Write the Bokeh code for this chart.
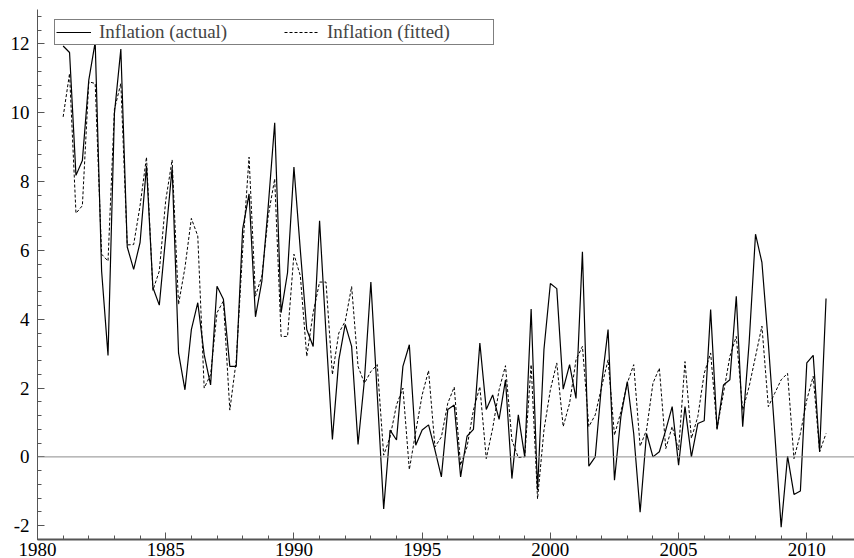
from bokeh.plotting import figure
from bokeh.models import Range1d, Span, Legend, LegendItem, SingleIntervalTicker, PrintfTickFormatter
from bokeh.embed import file_html
from bokeh.resources import INLINE

# Quarterly inflation, 1981Q1 - 2010Q4
start_year = 1981
quarters_per_year = 4

actual = [
    11.94, 11.75, 8.18, 8.61, 10.95, 12.05, 5.40, 2.95, 9.98, 11.85,
    6.10, 5.45, 6.23, 8.45, 4.92, 4.41, 6.40, 8.40, 3.02, 1.95,
    3.70, 4.48, 2.97, 2.09, 4.96, 4.58, 2.63, 2.63, 6.62, 7.64,
    4.07, 5.11, 7.30, 9.71, 4.19, 5.35, 8.42, 6.00, 3.70, 3.21,
    6.86, 3.60, 0.51, 2.82, 3.85, 3.21, 0.36, 2.24, 5.08, 1.80,
    -1.51, 0.78, 0.49, 2.63, 3.26, 0.34, 0.78, 0.93, 0.20, -0.58,
    1.38, 1.51, -0.58, 0.60, 0.80, 3.31, 1.38, 1.80, 1.09, 2.24,
    -0.63, 1.22, 0.00, 4.30, -0.97, 3.12, 5.04, 4.89, 1.97, 2.68,
    1.70, 5.96, -0.27, 0.00, 2.14, 3.70, -0.68, 1.17, 2.19, 0.68,
    -1.61, 0.68, 0.00, 0.15, 0.78, 1.46, -0.24, 1.46, 0.00, 0.97,
    1.05, 4.28, 0.80, 2.09, 2.24, 4.67, 0.88, 3.31, 6.47, 5.65,
    3.30, 0.70, -2.04, 0.02, -1.09, -0.99, 2.73, 2.95, 0.15, 4.60,
]

fitted = [
    9.88, 11.14, 7.08, 7.30, 10.90, 10.85, 5.89, 5.69, 10.10, 10.85,
    6.16, 6.17, 7.30, 8.71, 4.84, 5.40, 7.45, 8.63, 4.43, 5.50,
    6.93, 6.42, 2.00, 2.39, 4.19, 4.53, 1.36, 2.80, 6.00, 8.71,
    4.67, 5.26, 7.01, 8.08, 3.50, 3.50, 5.89, 5.26, 2.92, 4.19,
    5.08, 5.08, 2.39, 3.60, 3.94, 4.95, 2.63, 2.14, 2.48, 2.68,
    0.05, 0.58, 1.51, 2.00, -0.37, 0.73, 1.80, 2.51, 0.29, 0.58,
    1.56, 2.03, -0.24, 0.29, 1.36, 2.04, -0.05, 0.83, 1.95, 2.65,
    0.49, -0.02, 0.00, 2.68, -1.22, 0.78, 1.95, 2.73, 0.88, 1.56,
    2.82, 3.21, 0.88, 1.22, 2.04, 2.82, 0.63, 1.31, 2.14, 2.68,
    0.31, 0.78, 2.14, 2.58, 0.24, 0.88, 0.20, 2.77, 0.54, 1.17,
    2.43, 3.02, 0.83, 1.85, 2.92, 3.50, 1.36, 2.04, 2.92, 3.80,
    1.46, 1.85, 2.24, 2.43, -0.05, 0.68, 1.66, 2.34, 0.15, 0.68,
]

labels = ["Inflation (actual)", "Inflation (fitted)"]

dates = [start_year + k / quarters_per_year for k in range(len(actual))]

FONT = "Liberation Serif"

p = figure(width=854, height=558, output_backend="svg", toolbar_location=None,
           x_range=Range1d(1980, 2011.86), y_range=Range1d(-2.4, 13.0),
           min_border_left=37, min_border_right=0, min_border_top=9,
           min_border_bottom=19)
p.outline_line_color = None
p.xgrid.visible = False
p.ygrid.visible = False
p.background_fill_color = "white"
p.border_fill_color = "white"

zero = Span(location=0, dimension="width", line_color="#8c8c8c", line_width=1)
p.add_layout(zero)

r1 = p.line(dates, actual, line_color="black", line_width=1.2)
r2 = p.line(dates, fitted, line_color="black", line_width=1, line_dash="3 2")

# axes
p.xaxis.ticker = SingleIntervalTicker(interval=5, num_minor_ticks=5)
p.yaxis.ticker = SingleIntervalTicker(interval=2, num_minor_ticks=5)
p.xaxis.formatter = PrintfTickFormatter(format="%d")
p.yaxis.formatter = PrintfTickFormatter(format="%d")
for ax in (p.xaxis[0], p.yaxis[0]):
    ax.major_tick_in = 7
    ax.major_tick_out = 0
    ax.minor_tick_in = 4
    ax.minor_tick_out = 0
    ax.major_label_text_font = FONT
    ax.major_label_text_font_size = "19px"
    ax.major_label_text_color = "black"
    ax.axis_line_color = "#555555"
    ax.major_tick_line_color = "#555555"
    ax.minor_tick_line_color = "#555555"
p.xaxis.axis_line_width = 2
p.yaxis.axis_line_width = 1
p.xaxis.major_label_standoff = 3
p.xaxis.major_label_text_line_height = 0.8
p.yaxis.major_label_standoff = 8

legend = Legend(items=[LegendItem(label=labels[0], renderers=[r1]),
                       LegendItem(label=labels[1], renderers=[r2])],
                orientation="horizontal", location=(17, 494),
                padding=1, spacing=20, glyph_width=35, glyph_height=16,
                label_standoff=8, label_width=165, label_height=16,
                label_text_font=FONT, label_text_font_size="19px",
                label_text_line_height=0.8,
                border_line_color="black", border_line_width=1,
                background_fill_color="white", background_fill_alpha=1,
                margin=0)
p.add_layout(legend)

open("out.html", "w").write(file_html(p, INLINE))
